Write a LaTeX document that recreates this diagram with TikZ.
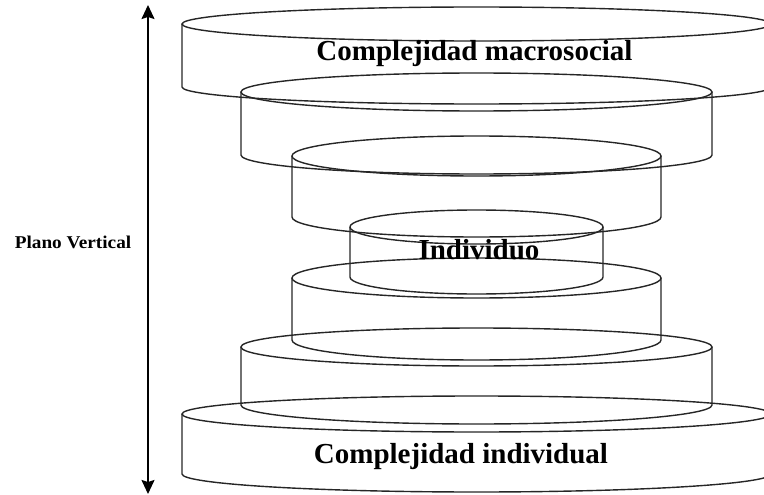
\documentclass[tikz,border=0pt]{standalone}
\usepackage{fontspec}
\setmainfont{Liberation Serif}
\usetikzlibrary{arrows.meta}
\begin{document}
\begin{tikzpicture}[x=1pt,y=1pt,
  cyl/.style={draw=black!85,line width=1.4pt},
  lbl/.style={inner sep=0pt,anchor=base,font=\bfseries\fontsize{29}{32}\selectfont},
  side/.style={inner sep=0pt,anchor=base,font=\bfseries\fontsize{18}{20}\selectfont}]
\clip (0,0) rectangle (764,-495);
% cylinder: cx, top y, bottom y, rx, ry
\def\cx{476.5}
\foreach \t/\b/\rx/\ry in {24/87/294.5/17, 92/155/235.5/19, 156/217/184.5/20, 227/277/126.5/17, 278/340/184.5/20, 347/405/235.5/19, 414/474/294.5/18}{
  \draw[cyl] (\cx,-\t) ellipse [x radius=\rx, y radius=\ry];
  \draw[cyl] (\cx-\rx,-\t) -- (\cx-\rx,-\b) arc[start angle=180, end angle=360, x radius=\rx, y radius=\ry] -- (\cx+\rx,-\t);
}
\node[lbl] (macro) at (474.5,-61) {Complejidad macrosocial};
\node[lbl] (indiv) at (479,-259) {Individuo};
\node[lbl] (cindiv) at (461,-463) {Complejidad individual};
\node[side] (plano) at (73,-248) {\scalebox{1.07}[1]{Plano Vertical}};
\coordinate (atop) at (148,-5);
\coordinate (abot) at (148,-494);
\draw[line width=1.5pt,{Stealth[length=14pt,width=13pt,inset=2pt]}-{Stealth[length=14pt,width=13pt,inset=2pt]}] (atop) -- (abot);
\end{tikzpicture}
\end{document}
